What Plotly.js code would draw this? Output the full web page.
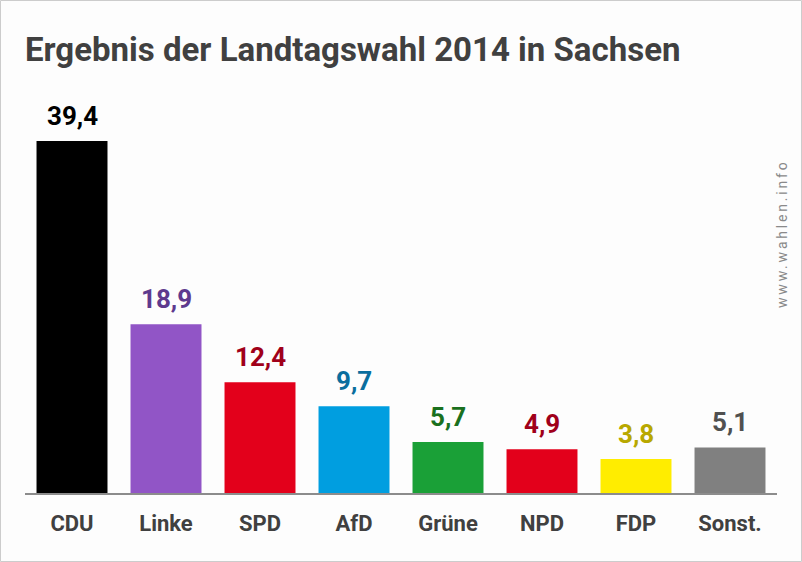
<!DOCTYPE html>
<html><head><meta charset="utf-8">
<script src="https://cdn.plot.ly/plotly-3.0.1.min.js"></script>
<style>html,body{margin:0;padding:0;background:#fdfdfd;}#chart{width:802px;height:562px;}</style>
</head><body><div id="chart"></div>
<script>
const parties = ["CDU", "Linke", "SPD", "AfD", "Grüne", "NPD", "FDP", "Sonst."];
const values = [39.4, 18.9, 12.4, 9.7, 5.7, 4.9, 3.8, 5.1];
const valueLabels = ["39,4", "18,9", "12,4", "9,7", "5,7", "4,9", "3,8", "5,1"];
const barColors = ["#000000", "#9155c6", "#e3001b", "#009ee0", "#1aa037", "#e3001b", "#ffed00", "#808080"];
const labelColors = ["#000000", "#5e3a8e", "#a0001a", "#0a6e9e", "#1a701e", "#a0001a", "#b8a800", "#505050"];

const L = 25, R = 777, T = 100, B = 493, W = 802, H = 562;
const pw = R - L, ph = B - T;

const trace = {
  type: "bar", x: parties, y: values,
  marker: {color: barColors, line: {width: 0}},
  hoverinfo: "none"
};

const annotations = parties.map((p, i) => ({
  x: p, y: values[i], xref: "x", yref: "y",
  text: valueLabels[i], showarrow: false,
  yanchor: "bottom", yshift: 8,
  font: {family: "Roboto", size: 26, color: labelColors[i], weight: 700}
}));
annotations.push({
  xref: "paper", yref: "paper",
  x: (782 - L) / pw, y: (B - 233) / ph,
  xanchor: "center", yanchor: "middle",
  text: "www.wahlen.info", showarrow: false, textangle: -90,
  font: {family: "Roboto", size: 14, color: "#8a8a8a"}
});

const layout = {
  width: W, height: H,
  margin: {l: L, r: W - R, t: T, b: H - B, pad: 0},
  paper_bgcolor: "#fdfdfd", plot_bgcolor: "#fdfdfd",
  bargap: 0.245,
  showlegend: false,
  title: {
    text: "Ergebnis der Landtagswahl 2014 in Sachsen",
    x: 25 / W, xanchor: "left", xref: "container",
    y: 1 - 38 / H, yanchor: "top", yref: "container",
    font: {family: "Roboto", size: 33, color: "#404040", weight: 700}
  },
  xaxis: {
    showline: true, linecolor: "#8c8c8c", linewidth: 2,
    ticks: "outside", ticklen: 10, tickcolor: "rgba(0,0,0,0)",
    tickfont: {family: "Roboto", size: 22, color: "#404040", weight: 700},
    showgrid: false, zeroline: false, fixedrange: true
  },
  yaxis: {
    range: [0, 44], visible: false, showgrid: false, zeroline: false, fixedrange: true
  },
  annotations: annotations,
  shapes: [{
    type: "rect", xref: "paper", yref: "paper",
    x0: (0.5 - L) / pw, x1: (W - 0.5 - L) / pw,
    y0: (B - (H - 0.5)) / ph, y1: (B - 0.5) / ph,
    line: {color: "#cccccc", width: 1}, fillcolor: "rgba(0,0,0,0)", layer: "below"
  }]
};

Plotly.newPlot("chart", [trace], layout, {displayModeBar: false, staticPlot: true}).then(() => {
  document.querySelectorAll(".annotation-text").forEach(el => {
    if (el.textContent === "www.wahlen.info") el.style.letterSpacing = "2.8px";
  });
});
</script></body></html>
